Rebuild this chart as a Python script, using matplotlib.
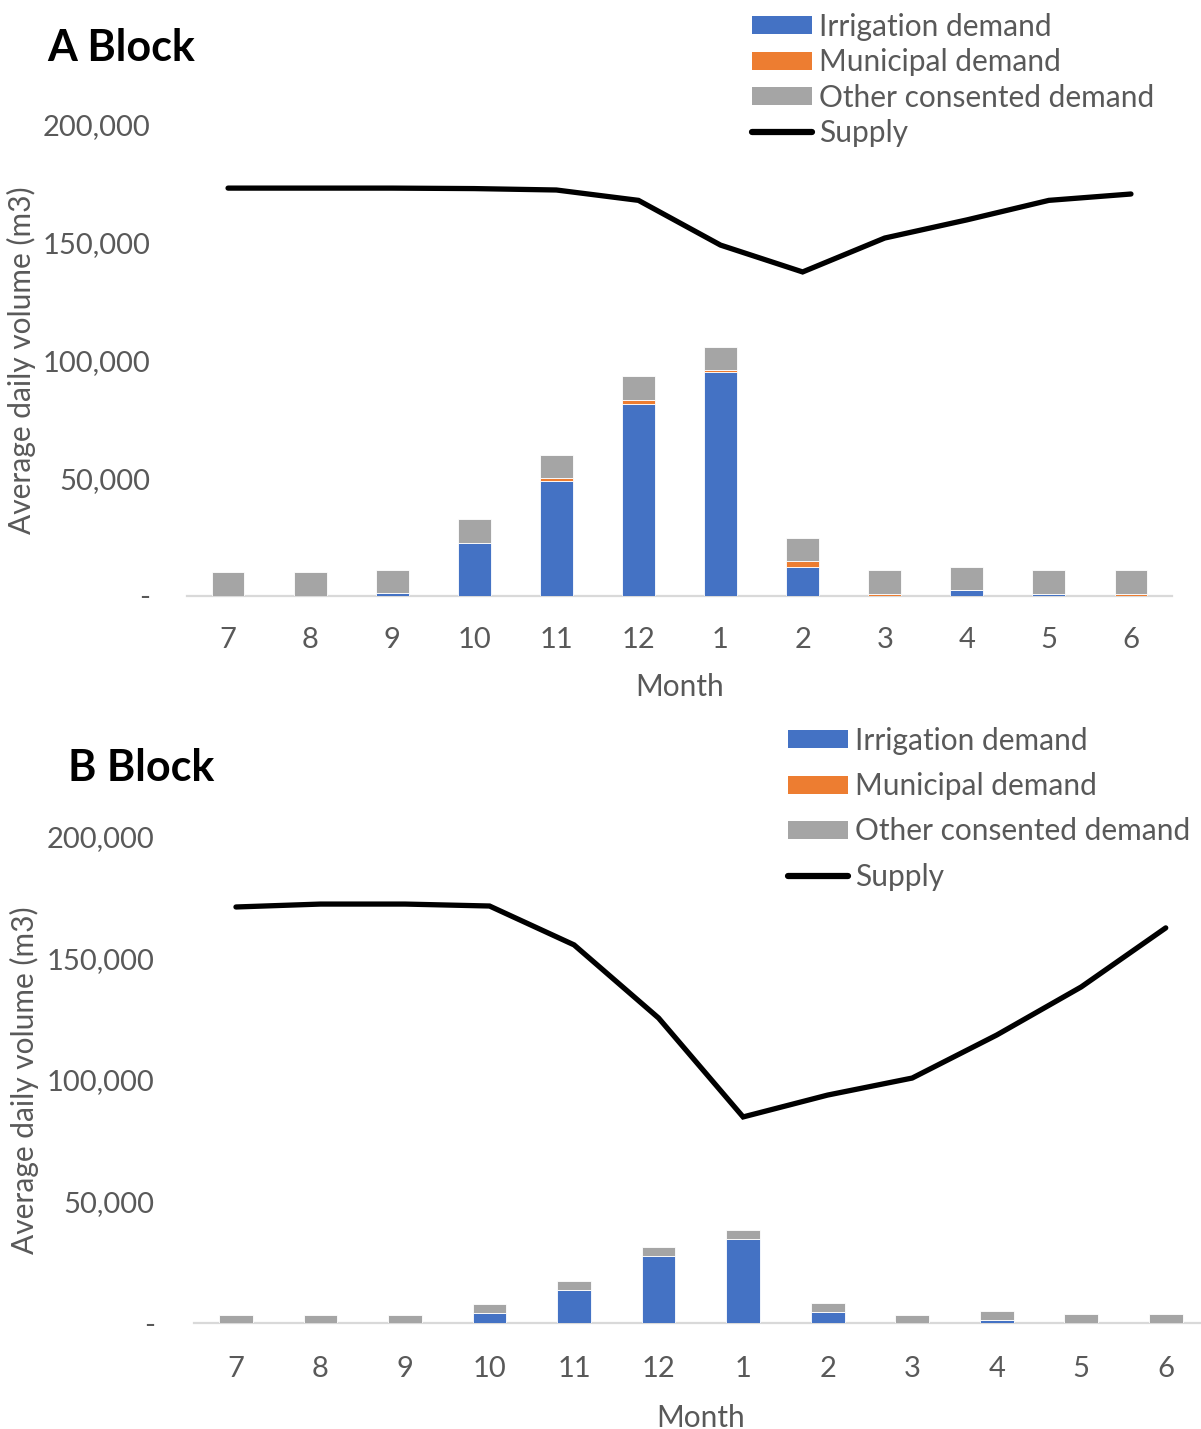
import matplotlib
matplotlib.use("Agg")
import matplotlib.pyplot as plt
from matplotlib.patches import Patch
from matplotlib.lines import Line2D
from matplotlib.ticker import FuncFormatter
import numpy as np

plt.rcParams['font.family'] = ['Lato', 'DejaVu Sans']

months = ["7", "8", "9", "10", "11", "12", "1", "2", "3", "4", "5", "6"]

# A Block (m3/day)
irrigation_a = [0, 0, 1100, 22700, 48800, 81700, 95100, 12300, 0, 2700, 800, 0]
municipal_a = [0, 0, 0, 0, 1200, 1700, 700, 2400, 800, 0, 0, 800]
other_a = [10400, 10400, 9900, 9900, 9900, 10000, 10100, 9900, 10100, 9800, 10100, 10100]
supply_a = [173200, 173200, 173200, 173000, 172400, 168000, 149000, 137600, 152000, 159700, 168000, 170700]

# B Block (m3/day)
irrigation_b = [0, 0, 0, 4100, 13400, 27700, 34400, 4500, 0, 1400, 0, 0]
municipal_b = [0, 0, 0, 0, 0, 0, 0, 0, 0, 0, 0, 0]
other_b = [3400, 3400, 3400, 3700, 3700, 3600, 3800, 3600, 3200, 3700, 3900, 3900]
supply_b = [171200, 172400, 172400, 171600, 155600, 125500, 84800, 93800, 100800, 118500, 138300, 162600]

C_IRR = "#4472C4"
C_MUN = "#ED7D31"
C_OTH = "#A5A5A5"
C_TXT = "#595959"

FS = 21.5

W, H = 1201, 1429
fig = plt.figure(figsize=(W / 100, H / 100), dpi=100)


def fmt(v, _):
    return "-" if v == 0 else f"{int(v):,}"


def panel(rect, irr, mun, oth, sup, title, title_xy, leg_xy, leg_spacing,
          ylab_x, xlab_y, tick_pad_y, tick_pad_x):
    ax = fig.add_axes(rect)
    x = np.arange(len(months))
    irr = np.array(irr, float)
    mun = np.array(mun, float)
    oth = np.array(oth, float)
    bw = 0.4
    ax.bar(x, irr, bw, color=C_IRR, edgecolor="white", linewidth=0.6, zorder=2)
    ax.bar(x, mun, bw, bottom=irr, color=C_MUN, edgecolor="white", linewidth=0.6, zorder=2)
    ax.bar(x, oth, bw, bottom=irr + mun, color=C_OTH, edgecolor="white",
           linewidth=0.6, zorder=2)
    ax.plot(x, sup, color="black", lw=3.8, solid_capstyle="round",
            solid_joinstyle="miter", zorder=3)

    ax.set_xlim(-0.5, len(months) - 0.5)
    ax.set_ylim(0, 200000)
    ax.set_yticks([0, 50000, 100000, 150000, 200000])
    ax.yaxis.set_major_formatter(FuncFormatter(fmt))
    ax.set_xticks(x)
    ax.set_xticklabels(months)
    for s in ["top", "right", "left"]:
        ax.spines[s].set_visible(False)
    ax.spines["bottom"].set_color("#D9D9D9")
    ax.spines["bottom"].set_linewidth(1.6)
    ax.spines["bottom"].set_zorder(1)
    ax.tick_params(axis="both", length=0, labelsize=FS - 0.5, labelcolor=C_TXT)
    ax.tick_params(axis="y", pad=tick_pad_y)
    ax.tick_params(axis="x", pad=tick_pad_x)

    ax.set_ylabel("Average daily volume (m3)", fontsize=FS, color=C_TXT)
    ax.yaxis.set_label_coords(ylab_x, 0.5)
    ax.set_xlabel("Month", fontsize=FS, color=C_TXT)
    ax.xaxis.set_label_coords(0.5, xlab_y)

    fig.text(title_xy[0] / W, 1 - title_xy[1] / H, title, fontsize=31,
             fontweight="bold", color="black", va="baseline", ha="left")

    handles = [
        Patch(facecolor=C_IRR, edgecolor="none"),
        Patch(facecolor=C_MUN, edgecolor="none"),
        Patch(facecolor=C_OTH, edgecolor="none"),
        Line2D([0], [0], color="black", lw=4.5, solid_capstyle="round"),
    ]
    labels = ["Irrigation demand", "Municipal demand",
              "Other consented demand", "Supply"]
    leg = fig.legend(handles, labels, loc="upper left",
                     bbox_to_anchor=(leg_xy[0] / W, 1 - leg_xy[1] / H),
                     frameon=False, fontsize=FS, borderpad=0, borderaxespad=0,
                     handlelength=2.0, handleheight=0.55, handletextpad=0.25,
                     labelspacing=leg_spacing)
    for t in leg.get_texts():
        t.set_color(C_TXT)
    return ax


# Top panel
panel([187 / W, 1 - 596 / H, (1172 - 187) / W, (596 - 125) / H],
      irrigation_a, municipal_a, other_a, supply_a,
      "A Block", (47, 61), (752, 13), 0.245,
      -0.153, -0.163, 26.5, 22)

# Bottom panel
panel([193.7 / W, 1 - 1323 / H, (1208 - 193.7) / W, (1323 - 837) / H],
      irrigation_b, municipal_b, other_b, supply_b,
      "B Block", (68, 781), (788, 727), 0.575,
      -0.153, -0.166, 28, 23.5)

fig.savefig("out.png", dpi=100, facecolor="white")
